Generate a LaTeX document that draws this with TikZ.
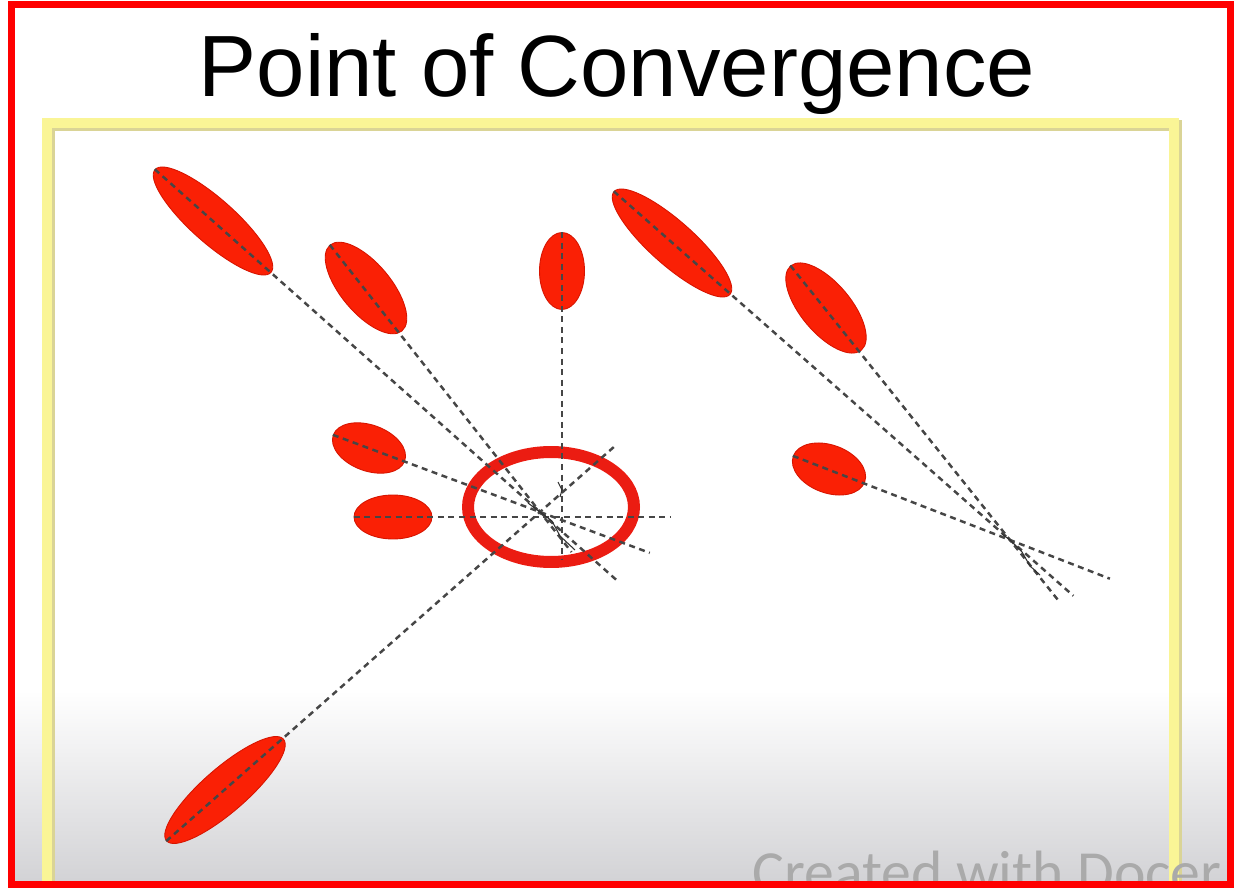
\documentclass[tikz,border=0pt]{standalone}
\usepackage{fontspec}
\setmainfont{Liberation Sans}
\newfontfamily\wmfont{Carlito}
\usetikzlibrary{shapes.geometric,calc}
\definecolor{blobred}{RGB}{250,32,5}
\definecolor{blobedge}{RGB}{215,20,0}
\definecolor{ringred}{RGB}{235,28,18}
\definecolor{framey}{RGB}{250,245,150}
\definecolor{frameshadow}{RGB}{218,212,150}
\definecolor{dashgray}{RGB}{70,70,70}
\definecolor{borderred}{RGB}{255,0,0}
\definecolor{fadegray}{RGB}{210,210,213}
\definecolor{wmgray}{RGB}{170,170,170}
\begin{document}
\begin{tikzpicture}[x=0.02cm,y=-0.02cm,
 blob/.style={ellipse, fill=blobred, draw=blobedge, line width=0.5pt, inner sep=0pt},
 dline/.style={draw=dashgray, line width=1.4pt, dash pattern=on 3.4pt off 2.6pt},
 squig/.style={draw=dashgray!70!black, line width=0.6pt},
 ring/.style={ellipse, draw=ringred, line width=0.24cm, inner sep=0pt}]
\useasboundingbox (0,0) rectangle (1234,888);
\fill[white] (0,0) rectangle (1234,888);
\shade[top color=white, bottom color=fadegray] (12,690) rectangle (1230,884);
% frame
\draw[frameshadow, line width=0.22cm] (49.5,884) -- (49.5,125.5) -- (1176.5,125.5) -- (1176.5,884);
\draw[framey, line width=0.2cm] (47,884) -- (47,123) -- (1174,123) -- (1174,884);
% title
\node[anchor=base, font=\fontsize{49.5}{50}\selectfont, inner sep=0pt] (title) at (617,97) {Point of Convergence};
% ellipses
\node[blob, minimum width=3.1cm, minimum height=0.88cm, rotate=-41.6] (e1) at (213,221) {};
\node[blob, minimum width=2.24cm, minimum height=1.0cm, rotate=-50] (e2) at (366,288) {};
\node[blob, minimum width=1.54cm, minimum height=0.9cm, rotate=-90] (e3) at (562,271) {};
\node[blob, minimum width=3.1cm, minimum height=0.88cm, rotate=-41.6] (e4) at (672,243) {};
\node[blob, minimum width=2.2cm, minimum height=1.0cm, rotate=-50] (e5) at (826,308) {};
\node[blob, minimum width=1.52cm, minimum height=0.92cm, rotate=-20] (e6) at (369,448) {};
\node[blob, minimum width=1.56cm, minimum height=0.88cm] (e7) at (393,517) {};
\node[blob, minimum width=1.52cm, minimum height=0.96cm, rotate=-20] (e8) at (829,469) {};
\node[blob, minimum width=3.1cm, minimum height=0.88cm, rotate=41] (e9) at (225,790) {};
% ring
\node[ring, minimum width=3.32cm, minimum height=2.2cm] (ring) at (551,507) {};
% convergence points
\coordinate (c1) at (540,512);
\coordinate (c2) at (1010,540);
\coordinate (v3) at (562,560);
\coordinate (h7) at (670,517);
% lines to left convergence
\draw[dline] (e1.west) -- ($(e1.west)!1.2!(c1)$);
\draw[dline] (e2.west) -- ($(e2.west)!1.15!(c1)$);
\draw[dline] (e3.west) -- (v3);
\draw[dline] (e6.west) -- ($(e6.west)!1.53!(c1)$);
\draw[dline] (e7.west) -- (h7);
\draw[dline] (e9.west) -- ($(e9.west)!1.2!(c1)$);
\draw[squig] (528,503) -- (540,512) -- (552,521) -- (560,536) -- (575,550);
\draw[squig] (558,482) -- (562,490) -- (560,497);
% lines to right convergence
\draw[dline] (e4.west) -- ($(e4.west)!1.16!(c2)$);
\draw[dline] (e5.west) -- ($(e5.west)!1.22!(c2)$);
\draw[dline] (e8.west) -- ($(e8.west)!1.46!(c2)$);
\draw[squig] (1002,534) -- (1010,540) -- (1022,552) -- (1030,566) -- (1040,575);
% watermark
\begin{scope}
\clip (12,5) rectangle (1230,882);
\node[anchor=base west, inner sep=0pt, text=wmgray, font=\wmfont\fontsize{34}{36}\selectfont] (wm) at (752,892) {Created with Docer};
\end{scope}
% outer border
\draw[borderred, line width=0.14cm] (11.5,4.5) rectangle (1230.5,884);
\end{tikzpicture}
\end{document}
